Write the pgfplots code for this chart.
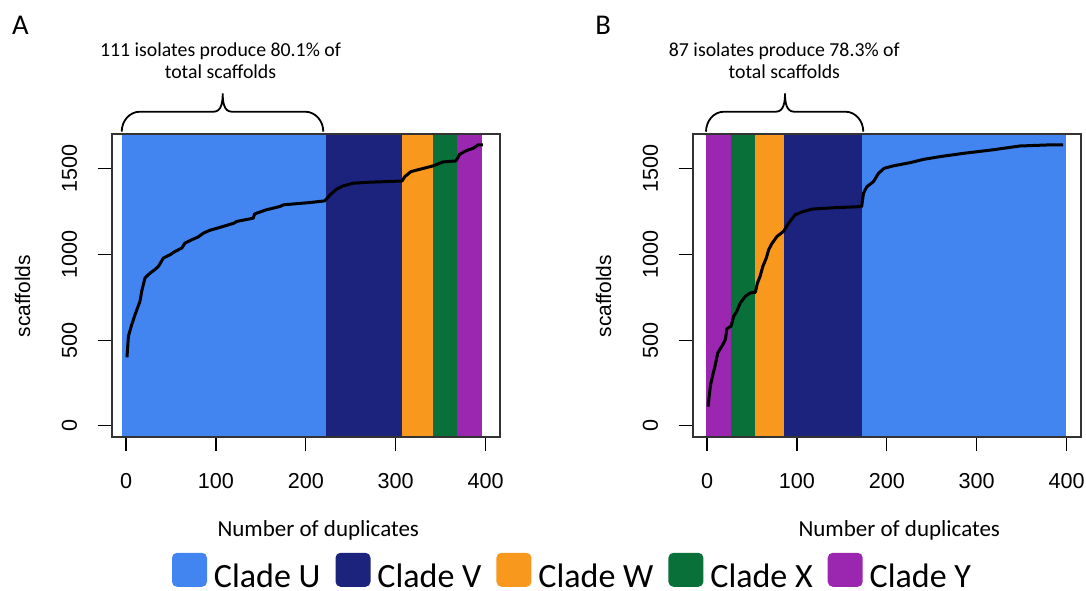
\documentclass[border=0pt]{standalone}
\usepackage{pgfplots}
\pgfplotsset{compat=1.18}
\usepackage{fontspec}
\setmainfont{Carlito}
\newfontfamily\arial{Liberation Sans}
\definecolor{cU}{HTML}{4285F0}
\definecolor{cV}{HTML}{1B237D}
\definecolor{cW}{HTML}{F8981D}
\definecolor{cX}{HTML}{0A703A}
\definecolor{cY}{HTML}{9B26AF}
\pgfplotsset{
  panel/.style={
    scale only axis, width=194.15pt, height=151.5pt,
    xmin=-16, xmax=416, ymin=-65, ymax=1702,
    xtick={0,100,200,300,400}, ytick={0,500,1000,1500},
    tick pos=left, tick align=outside, major tick length=7pt,
    tick style={black, line width=0.6pt},
    axis line style={draw=black!80, line width=0.8pt},
    axis on top=true,
    /pgf/number format/assume math mode=true,
    /pgf/number format/1000 sep={},
    ticklabel style={font=\arial\fontsize{10.8}{12}\selectfont},
    xticklabel shift=7.5pt,
    yticklabel style={rotate=90, anchor=south},
    yticklabel shift=6.8pt,
    xlabel={Number of duplicates},
    xlabel style={font=\fontsize{11.5}{13}\selectfont, at={(axis description cs:0.532,-0.328)}, anchor=base},
    ylabel={scaffolds},
    ylabel style={font=\arial\fontsize{10.5}{12}\selectfont, at={(axis description cs:-0.21,0.465)}, anchor=base},
  },
  curve/.style={black, line width=1.5pt, line join=round, forget plot},
  reg/.style={fill=#1, draw=none},
}
\begin{document}
\begin{tikzpicture}
\path[use as bounding box] (0,0) rectangle (543pt,295pt);
\begin{axis}[panel, at={(55.85pt,76.5pt)}, anchor=south west,
  legend columns=5,
  legend style={at={(axis description cs:1.1867,-0.447)}, anchor=center, draw=none, fill=none,
    font=\fontsize{17}{20}\selectfont, column sep=0pt,
    nodes={inner sep=1pt},
    /tikz/every odd column/.append style={column sep=2.5pt},
    /tikz/every even column/.append style={column sep=6.5pt}},
  legend image code/.code={\fill[#1, rounded corners=2.5pt] (0pt,-5pt) rectangle (17.5pt,12pt);},
]
\addplot[reg=cU] coordinates {(-4,-200) (222,-200) (222,2000) (-4,2000)} --cycle;
\addlegendentry{Clade U}
\addplot[reg=cV] coordinates {(222,-200) (307.5,-200) (307.5,2000) (222,2000)} --cycle;
\addlegendentry{Clade V}
\addplot[reg=cW] coordinates {(307.5,-200) (342,-200) (342,2000) (307.5,2000)} --cycle;
\addlegendentry{Clade W}
\addplot[reg=cX] coordinates {(342,-200) (368,-200) (368,2000) (342,2000)} --cycle;
\addlegendentry{Clade X}
\addplot[reg=cY] coordinates {(368,-200) (396,-200) (396,2000) (368,2000)} --cycle;
\addlegendentry{Clade Y}
\addplot[curve] coordinates {
(1,400) (2.6,523) (6.3,591) (10,649) (15.5,727) (17.4,785) (21,862) (26.7,891)
(32,911) (36,930) (41.5,979) (49,998) (54.4,1017) (62,1037) (65.5,1066) (73,1085)
(80,1101) (86,1124) (93,1140) (108,1163) (120,1182) (123,1192) (141.5,1211) (143,1236)
(156,1260) (171,1279) (175,1289) (204,1302) (221,1312) (227,1347) (234,1380) (241.5,1399)
(252.6,1415) (267,1420) (307,1428) (310,1453) (317,1483) (326.7,1496) (341.5,1516)
(352.6,1539) (367,1545) (371,1583) (378.5,1605) (386,1618) (391.5,1638) (397,1638)};
\end{axis}
\begin{axis}[panel, at={(346.35pt,76.5pt)}, anchor=south west]
\addplot[reg=cY, forget plot] coordinates {(-0.7,-200) (27,-200) (27,2000) (-0.7,2000)} --cycle;
\addplot[reg=cX, forget plot] coordinates {(27,-200) (53.7,-200) (53.7,2000) (27,2000)} --cycle;
\addplot[reg=cW, forget plot] coordinates {(53.7,-200) (86,-200) (86,2000) (53.7,2000)} --cycle;
\addplot[reg=cV, forget plot] coordinates {(86,-200) (172.6,-200) (172.6,2000) (86,2000)} --cycle;
\addplot[reg=cU, forget plot] coordinates {(172.6,-200) (399,-200) (399,2000) (172.6,2000)} --cycle;
\addplot[curve] coordinates {
(1,112) (3.7,233) (5.6,281) (9.3,359) (11.9,426) (14.8,450) (18.5,484) (20.4,504)
(22,566) (26.7,581) (29.6,640) (32.6,663) (37,717) (42.6,756) (48,775) (53.7,779)
(56,833) (59,872) (62,930) (65.9,979) (68.5,1027) (72,1062) (77.8,1105) (85,1134)
(90.7,1182) (98,1231) (107,1250) (116.7,1264) (137,1271) (172,1279) (174,1357)
(177.8,1395) (185,1424) (190.7,1473) (197,1502) (207,1516) (226,1535) (240.7,1554)
(259,1570) (285,1589) (316.7,1609) (348,1632) (378,1638) (396,1638)};
\end{axis}
% panel letters
\node[anchor=base west, inner sep=0pt, font=\fontsize{14.3}{16}\selectfont] at (5.85pt,277.5pt) {A};
\node[anchor=base west, inner sep=0pt, font=\fontsize{14.3}{16}\selectfont] at (297.5pt,277.5pt) {B};
% annotations
\node[anchor=base, inner sep=0pt, font=\fontsize{9.9}{11}\selectfont] at (110.25pt,266.65pt) {111 isolates produce 80.1\% of};
\node[anchor=base, inner sep=0pt, font=\fontsize{9.9}{11}\selectfont] at (110.25pt,255.5pt) {total scaffolds};
\node[anchor=base, inner sep=0pt, font=\fontsize{9.9}{11}\selectfont] at (392.15pt,266.65pt) {87 isolates produce 78.3\% of};
\node[anchor=base, inner sep=0pt, font=\fontsize{9.9}{11}\selectfont] at (392.15pt,255.5pt) {total scaffolds};
% braces
\draw[line width=0.9pt] (60.85pt,229.15pt) to[out=90,in=180] (70pt,239.15pt) -- (106.85pt,239.15pt)
  to[out=0,in=-90] (111.35pt,248.35pt) to[out=-90,in=180] (115.85pt,239.15pt) -- (152.5pt,239.15pt)
  to[out=0,in=90] (161.65pt,229.15pt);
\draw[line width=0.9pt] (353pt,229.15pt) to[out=90,in=180] (362pt,239.15pt) -- (388pt,239.15pt)
  to[out=0,in=-90] (392.5pt,248.35pt) to[out=-90,in=180] (397pt,239.15pt) -- (422.65pt,239.15pt)
  to[out=0,in=90] (431.65pt,229.15pt);
\end{tikzpicture}
\end{document}
